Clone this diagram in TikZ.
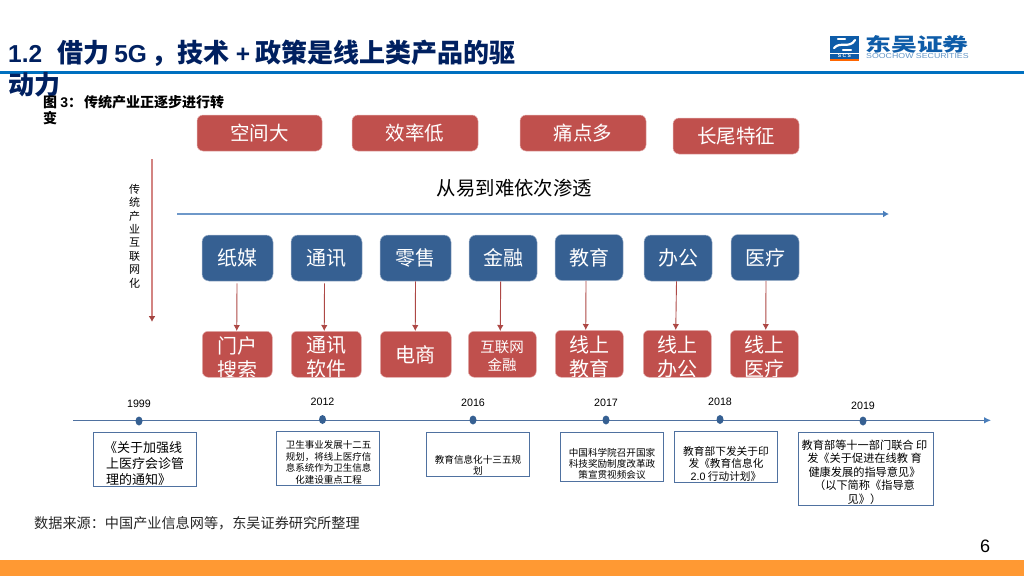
\documentclass[tikz,border=0pt]{standalone}
\usepackage{fontspec}
\setmainfont{Noto Sans CJK SC}
\newfontfamily\latin{Liberation Sans}
\usetikzlibrary{arrows.meta,shapes.geometric}
\definecolor{brandblue}{RGB}{0,112,192}
\definecolor{logoblue}{RGB}{14,92,168}
\definecolor{navy}{RGB}{0,32,96}
\definecolor{boxred}{RGB}{192,80,77}
\definecolor{boxblue}{RGB}{54,96,146}
\definecolor{linkblue}{RGB}{74,126,187}
\definecolor{orangebar}{RGB}{255,153,51}
\definecolor{framec}{RGB}{79,113,160}
\tikzset{
 x=1pt,y=-1pt,
 redbox/.style={draw=boxred!45!white,line width=.5pt,fill=boxred,rounded corners=6pt,text=white,inner sep=0pt,align=center},
 bluebox/.style={draw=boxblue!45!white,line width=.5pt,fill=boxblue,rounded corners=7pt,text=white,inner sep=0pt,align=center},
 flow/.style={draw=boxred!90!black,line width=.9pt,-{Latex[length=6pt,width=6.5pt]}},
 note/.style={draw=framec,line width=.8pt,inner sep=0pt},
 notetext/.style={inner sep=0pt,align=center},
 dot/.style={ellipse,fill=boxblue,minimum width=7pt,minimum height=9pt,inner sep=0pt},
 yearlabel/.style={font=\latin\fontsize{10.7}{12}\selectfont,inner sep=0pt},
 rowtext/.style={inner sep=0pt,text=white,align=center,font=\fontsize{20}{24}\selectfont},
 toptext/.style={font=\fontsize{19.5}{24}\selectfont},
 titletext/.style={anchor=west,inner sep=0pt,text=navy,font=\bfseries\fontsize{26}{30}\selectfont},
 captext/.style={anchor=west,inner sep=0pt,font=\bfseries\fontsize{14}{16}\selectfont},
}
\begin{document}
\begin{tikzpicture}
\useasboundingbox (0,0) rectangle (1024,576);
\fill[orangebar] (0,560) rectangle (1024,576);
\fill[brandblue] (0,70.5) rectangle (1024,73.5);

\node[titletext] (title1) at (8,53) {{\latin\fontsize{24.5}{30}\selectfont 1.2}\hspace{15pt}借力\hspace{5pt}{\latin\fontsize{24.5}{30}\selectfont 5G}\hspace{5pt}，技术\hspace{6pt}{\latin\fontsize{24.5}{30}\selectfont +}\hspace{5pt}政策是线上类产品的驱};
\node[titletext] (title2) at (8,84.5) {动力};
\node[captext] (cap1) at (43,102) {图 {\latin 3}：\hspace{2pt}传统产业正逐步进行转};
\node[captext] (cap2) at (43,118.5) {变};

% logo
\fill[logoblue] (830,36) rectangle (859,52.5);
\draw[white,line width=2.2pt,line cap=round] (834,48) .. controls (840,41) and (850,49) .. (855,40);
\draw[white,line width=2.2pt,line cap=round] (838,39) -- (845,39);
\draw[white,line width=2.2pt,line cap=round] (843,50) -- (851,50);
\fill[logoblue] (830,53.5) rectangle (859,58.5);
\fill[orange!80!red] (830,59) rectangle (859,60.5);
\node[inner sep=0pt,text=white,font=\latin\bfseries\fontsize{5}{5}\selectfont] (logoa) at (844.5,56) {S C S};
\node[anchor=west,inner sep=0pt,text=logoblue,font=\bfseries\fontsize{18.5}{20}\selectfont] (logob) at (865,44.5) {\scalebox{1.4}[1]{东吴证券}};
\node[anchor=west,inner sep=0pt,text=logoblue!65,font=\latin\fontsize{7.2}{8}\selectfont] (logoc) at (866,56.5) {\scalebox{1.22}[1]{SOOCHOW SECURITIES}};

% top boxes
\node[redbox,toptext,minimum width=125pt,minimum height=36pt] (t1) at (259.5,133) {\raisebox{-1pt}{空间大}};
\node[redbox,toptext,minimum width=126pt,minimum height=36pt] (t2) at (415,133) {\raisebox{-1pt}{效率低}};
\node[redbox,toptext,minimum width=126pt,minimum height=36pt] (t3) at (583,133) {\raisebox{-1pt}{痛点多}};
\node[redbox,toptext,minimum width=126pt,minimum height=36pt] (t4) at (736,136) {\raisebox{-1pt}{长尾特征}};

% left arrow
\coordinate (la) at (152,159);
\coordinate (lb) at (152,322);
\draw[draw=boxred!70!white,line width=1.3pt,-{Latex[length=6pt,width=7pt,color=boxred!85!black]}] (la) -- (lb);
\node[inner sep=0pt,align=center,font=\fontsize{11}{13.4}\selectfont] (vert) at (134.7,236) {传\\统\\产\\业\\互\\联\\网\\化};

\node[inner sep=0pt,font=\fontsize{19.4}{22}\selectfont] (order) at (514.5,188) {从易到难依次渗透};
\coordinate (ha) at (177,214);
\coordinate (hb) at (889,214);
\draw[draw=linkblue!80!white,line width=1.3pt,-{Latex[length=6pt,width=7pt,color=linkblue]}] (ha) -- (hb);

% blue row
\foreach \n/\cx/\cy/\w/\txt in {b1/237.5/258/71/纸媒,b2/326.5/258/71/通讯,b3/415.5/258/71/零售,b4/503/258/68/金融,b5/589/257.5/68/教育,b6/678/258/68/办公,b7/765/257.5/68/医疗}{
 \node[bluebox,minimum width=\w pt,minimum height=46pt,font=\fontsize{20}{24}\selectfont] (\n) at (\cx,\cy) {\raisebox{-1pt}{\txt}};
}
% red row
\foreach \n/\x/\w/\yy/\hh in {r1/202/70/331/46,r2/291/70/331/46,r3/380/71/331/46,r4/468/68/331/46,r5/555/68/330/47,r6/643/68/330/47,r7/730/68/330/47}{
 \node[redbox,anchor=north west,minimum width=\w pt,minimum height=\hh pt] (\n) at (\x,\yy) {};
}
\begin{scope}
\clip (195,331) rectangle (805,376.5);
\node[rowtext] (r1t) at (237,357.5) {门户\\搜索};
\node[rowtext] (r2t) at (326,357.5) {通讯\\软件};
\node[rowtext] (r3t) at (415.3,355) {电商};
\node[rowtext,font=\fontsize{14.5}{18}\selectfont] (r4t) at (502,356) {互联网\\金融};
\node[rowtext] (r5t) at (589,356.5) {线上\\教育};
\node[rowtext] (r6t) at (677,356.5) {线上\\办公};
\node[rowtext] (r7t) at (764,356.5) {线上\\医疗};
\end{scope}
\draw[flow] ([xshift=-.5pt,yshift=-2pt]b1.south) -- ([xshift=-.5pt]r1.north);
\draw[flow] ([xshift=-2pt,yshift=-2pt]b2.south) -- ([xshift=-2pt]r2.north);
\draw[flow] (b3.south) -- ([xshift=-.5pt]r3.north);
\draw[flow] ([xshift=-2.3pt]b4.south) -- ([xshift=-2pt]r4.north);
\draw[flow] ([xshift=-3pt]b5.south) -- ([xshift=-3.5pt]r5.north);
\draw[flow] ([xshift=-1.5pt]b6.south) -- ([xshift=-1.5pt]r6.north);
\draw[flow] ([xshift=1pt]b7.south) -- ([xshift=1.5pt]r7.north);

% timeline
\coordinate (tla) at (73,420.3);
\coordinate (tlb) at (991,420.3);
\draw[draw=framec,line width=1pt,-{Latex[length=7pt,width=6.5pt,color=linkblue]}] (tla) -- (tlb);
\foreach \n/\x/\y/\yl/\lab in {d1/139/421/403.5/1999,d2/322.5/419.5/401.5/2012,d3/473/420/402.5/2016,d4/606/420/402.5/2017,d5/720/419.5/402/2018,d6/863/421/405.5/2019}{
 \node[dot] (\n) at (\x,\y) {};
 \node[yearlabel] (\n y) at (\x,\yl) {\lab};
}
\node[note,minimum width=103.5pt,minimum height=54pt] (n1) at (145,459) {};
\node[note,minimum width=103.5pt,minimum height=54pt] (n2) at (328,458) {};
\node[note,minimum width=103.5pt,minimum height=44pt] (n3) at (478,454) {};
\node[note,minimum width=103pt,minimum height=49pt] (n4) at (611.5,456.5) {};
\node[note,minimum width=103pt,minimum height=51pt] (n5) at (725.5,456.5) {};
\node[note,minimum width=135.5pt,minimum height=73pt] (n6) at (866,468.5) {};
\node[notetext,align=left,anchor=west,font=\fontsize{13}{16}\selectfont] (n1t) at (106,464) {\hspace{-2pt}《关于加强线\\上医疗会诊管\\理的通知》};
\node[notetext,font=\fontsize{9.5}{11.6}\selectfont] (n2t) at (328.5,462.5) {卫生事业发展十二五\\规划，将线上医疗信\\息系统作为卫生信息\\化建设重点工程};
\node[notetext,font=\fontsize{9.6}{11.5}\selectfont] (n3t) at (478,465.5) {教育信息化十三五规\\划};
\node[notetext,font=\fontsize{9.6}{11.3}\selectfont] (n4t) at (612,464) {中国科学院召开国家\\科技奖励制度改革政\\策宣贯视频会议};
\node[notetext,font=\fontsize{10.7}{12.5}\selectfont] (n5t) at (726,463.5) {教育部下发关于印\\发《教育信息化\\{\latin 2.0} 行动计划》};
\node[notetext,font=\fontsize{11.2}{13.5}\selectfont] (n6t) at (864.5,472) {教育部等十一部门联合 印\\发《关于促进在线教 育\\健康发展的指导意见》\\（以下简称《指导意\\见》）};

\node[anchor=west,inner sep=0pt,text=black!85,font=\fontsize{14.15}{16}\selectfont] (src) at (34,523) {数据来源：中国产业信息网等，东吴证券研究所整理};
\node[inner sep=0pt,font=\latin\fontsize{18}{20}\selectfont] (page) at (985,546) {6};
\end{tikzpicture}
\end{document}
